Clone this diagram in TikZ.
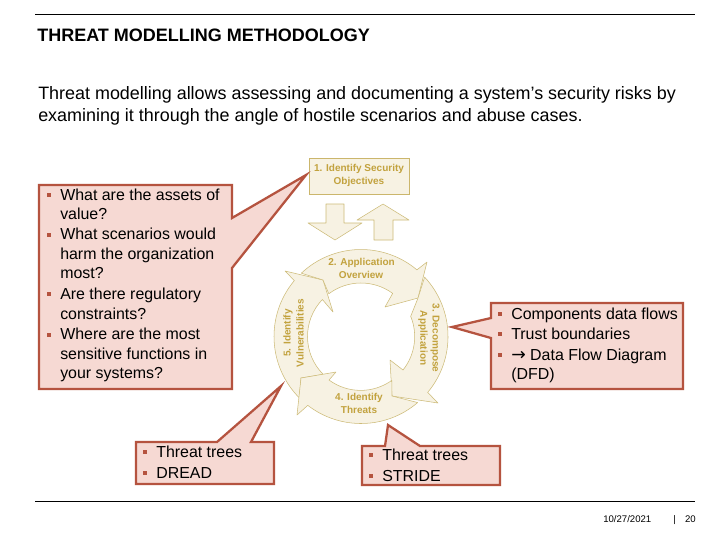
\documentclass[tikz,border=0pt]{standalone}
\usepackage{fontspec}
\setmainfont{Liberation Sans}
\newfontfamily\arrowfont{DejaVu Sans}
\definecolor{cream}{HTML}{F7F2E3}
\definecolor{tan}{HTML}{CDBB78}
\definecolor{gold}{HTML}{C2A23E}
\definecolor{pinkfill}{HTML}{F6D9D3}
\definecolor{redline}{HTML}{B5533F}
\begin{document}
\begin{tikzpicture}
[	x=.75pt,y=-.75pt,
rule/.style={draw=black,line width=.6pt},
ring/.style={draw=tan,fill=cream,line width=.4pt,line join=round},
step1/.style={font=\fontsize{7.5}{8}\selectfont\bfseries,text=gold,inner sep=0pt},
callout/.style={draw=redline,fill=pinkfill,line width=1.7pt,line join=miter},
bul/.style={rectangle,fill=redline,minimum size=3.7pt,inner sep=0pt},
txt/.style={anchor=base west,inner sep=0pt,align=left,font=\fontsize{11.95}{14.5}\selectfont},
headline/.style={anchor=base west,inner sep=0pt,font=\fontsize{13.45}{13.45}\selectfont},
foot/.style={anchor=base west,inner sep=0pt,font=\fontsize{7.2}{8}\selectfont}
]
\useasboundingbox (0,0) rectangle (720,540);
\fill[white] (0,0) rectangle (720,540);

\draw[rule] (35,14) -- (695,14);
\draw[rule] (35,501) -- (695,501);
\node[headline,font=\fontsize{13.5}{13.5}\selectfont\bfseries] (title) at (37,41){THREAT MODELLING METHODOLOGY};
\node[headline] (introa) at (38,99){Threat modelling allows assessing and documenting a system’s security risks by};
\node[headline] (introb) at (38,121){examining it through the angle of hostile scenarios and abuse cases.};

% cycle
\coordinate (ringc) at (361,336.5);
\draw[ring] ([shift={(135:87)}]ringc) arc[start angle=135,end angle=220,radius=87]
  -- (285,271) -- (323,280) -- (333,312) -- ([shift={(223.8:53.5)}]ringc)
  arc[start angle=223.8,end angle=135,radius=53.5] -- (301,378) -- cycle;
\draw[ring] ([shift={(226.7:87)}]ringc) arc[start angle=226.7,end angle=310,radius=87]
  -- (427,262) -- (418,298) -- (385,307) -- ([shift={(306.3:53.5)}]ringc)
  arc[start angle=306.3,end angle=233,radius=53.5] -- (323,280) -- cycle;
\draw[ring] ([shift={(-43:87)}]ringc) arc[start angle=-43,end angle=40,radius=87]
  -- (438,403) -- (392,396) -- (390,360) -- (403,370)
  arc[start angle=38.6,end angle=-22.3,radius=53.5] -- (418,298) -- cycle;
\draw[ring] ([shift={(49.4:87)}]ringc) arc[start angle=49.4,end angle=127.7,radius=87]
  -- (297,415) -- (301,378) -- (336,372) -- (329,380)
  arc[start angle=126.3,end angle=54.5,radius=53.5] -- (392,396) -- cycle;

\node[draw=tan!80!gold,fill=cream,line width=.6pt,minimum width=75pt,minimum height=27pt,inner sep=0pt] (goalbox) at (359,176){};
\draw[ring] (326,204) -- (344,204) -- (344,223) -- (362,223) -- (335,240) -- (308,223) -- (326,223) -- cycle;
\draw[ring] (383,204) -- (409,220) -- (393,220) -- (393,240) -- (374,240) -- (374,220) -- (357,220) -- cycle;

\node[step1] (goala) at (359,169){1. Identify Security};
\node[step1] (goalb) at (359,182){Objectives};
\node[step1] (appa) at (361.5,262.5){2. Application};
\node[step1] (appb) at (361,275){Overview};
\node[step1,rotate=-90] (deca) at (435,338){3. Decompose};
\node[step1,rotate=-90] (decb) at (423,338){Application};
\node[step1] (thra) at (359,398){4. Identify};
\node[step1] (thrb) at (359,410){Threats};
\node[step1,rotate=90] (vula) at (288,333){5. Identify};
\node[step1,rotate=90] (vulb) at (300,333){Vulnerabilities};

% callouts
\draw[callout] (39,185) -- (232,185) -- (232,218) -- (306,175) -- (232,268) -- (232,389) -- (39,389) -- cycle;
\draw[callout] (491,303) -- (683,303) -- (683,389) -- (491,389) -- (491,338) -- (452,327) -- (491,318) -- cycle;
\draw[callout] (136,442) -- (217,442) -- (281,386) -- (251,442) -- (274,442) -- (274,484) -- (136,484) -- cycle;
\draw[callout] (362,446) -- (385,446) -- (388,425) -- (420,446) -- (500,446) -- (500,485) -- (362,485) -- cycle;

\node[bul] (bula) at (49,195){};
\node[bul] (bulb) at (49,235){};
\node[bul] (bulc) at (49,294){};
\node[bul] (buld) at (49,335){};
\node[txt] (asks) at (60,219.5){What are the assets of\\value?};
\node[txt] (askb) at (60,278.5){What scenarios would\\harm the organization\\most?};
\node[txt] (askc) at (60,319){Are there regulatory\\constraints?};
\node[txt] (askd) at (60,378.5){Where are the most\\sensitive functions in\\your systems?};

\node[bul] (bule) at (500,314){};
\node[bul] (bulf) at (500,334){};
\node[bul] (bulg) at (500,355){};
\node[txt] (dfda) at (511,319){Components data flows};
\node[txt] (dfdb) at (511,339){Trust boundaries};
\node[txt] (dfdc) at (511,379.5){{\arrowfont\fontsize{13}{14.5}\selectfont →} Data Flow Diagram\\(DFD)};

\node[bul] (bulh) at (145,452){};
\node[bul] (buli) at (145,473){};
\node[txt] (dreada) at (156,457){Threat trees};
\node[txt] (dreadb) at (156,478){DREAD};

\node[bul] (bulj) at (371,455){};
\node[bul] (bulk) at (371,476){};
\node[txt] (stridea) at (382,460){Threat trees};
\node[txt] (strideb) at (382,481){STRIDE};

\node[foot] (footdate) at (603,522){10/27/2021};
\node[foot] (footpage) at (673,522){|\hspace{5pt} 20};
\end{tikzpicture}
\end{document}
